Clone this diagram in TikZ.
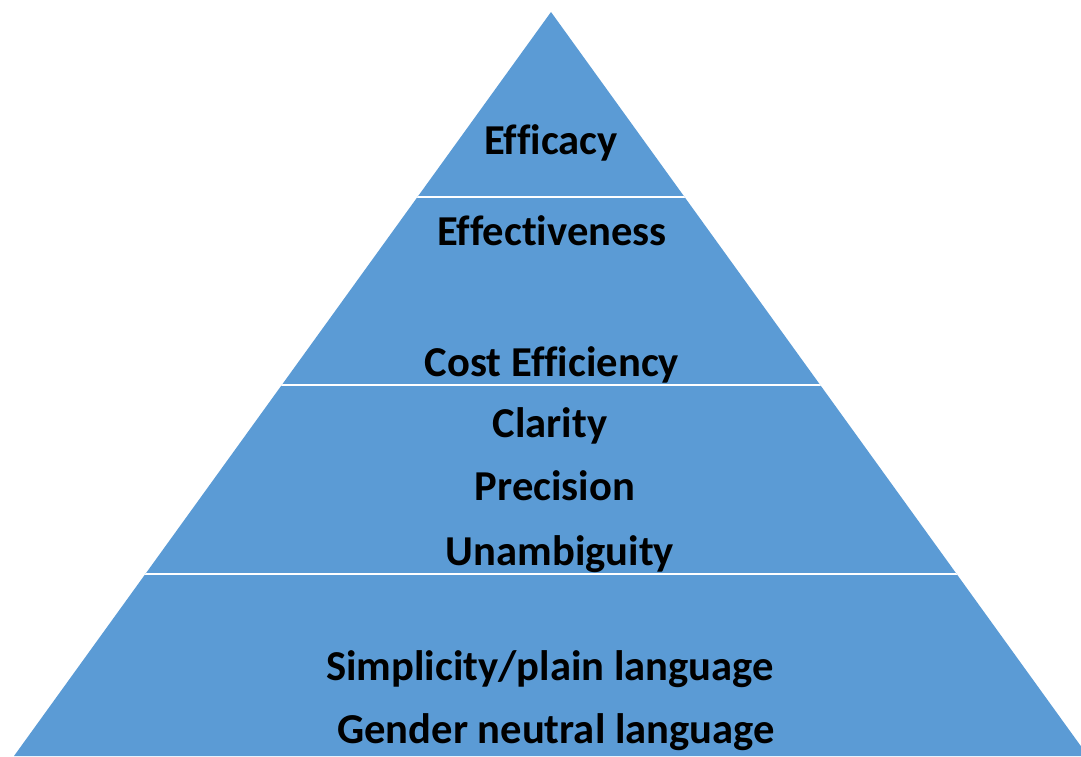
\documentclass[tikz,border=0pt]{standalone}
\usepackage{fontspec}
\setmainfont[Ligatures=NoCommon]{Carlito}
\definecolor{pyrblue}{HTML}{5B9BD5}
\tikzset{
  lbl/.style={anchor=base, inner sep=0pt, font=\bfseries\fontsize{42.6}{50}\selectfont, text=black},
  sep/.style={draw=white, line width=2.5pt}
}
\begin{document}
\begin{tikzpicture}[x=1pt,y=1pt]
\useasboundingbox (0,0) rectangle (1081,756);
\clip (0,0) rectangle (1081,756);
% pyramid
\coordinate (apex) at (551,744);
\coordinate (bl) at (14,0);
\coordinate (br) at (1088,0);
\fill[pyrblue] (apex) -- (bl) -- (br) -- cycle;
\begin{scope}
  \clip (apex) -- (bl) -- (br) -- cycle;
  \draw[sep] (0,559) -- (1081,559);
  \draw[sep] (0,371) -- (1081,371);
  \draw[sep] (0,182) -- (1081,182);
\end{scope}
% labels
\node[lbl] (efficacy) at (551,601) {Efficacy};
\node[lbl] (effect) at (552,510) {Effectiveness};
\node[lbl] (cost) at (552,379) {Cost Efficiency};
\node[lbl] (clarity) at (550,319) {Clarity};
\node[lbl] (precision) at (555,256) {Precision};
\node[lbl] (unamb) at (560,191) {Unambiguity};
\node[lbl] (simpl) at (550,76) {Simplicity/plain language};
\node[lbl] (gender) at (556,13) {Gender neutral language};
\end{tikzpicture}
\end{document}
